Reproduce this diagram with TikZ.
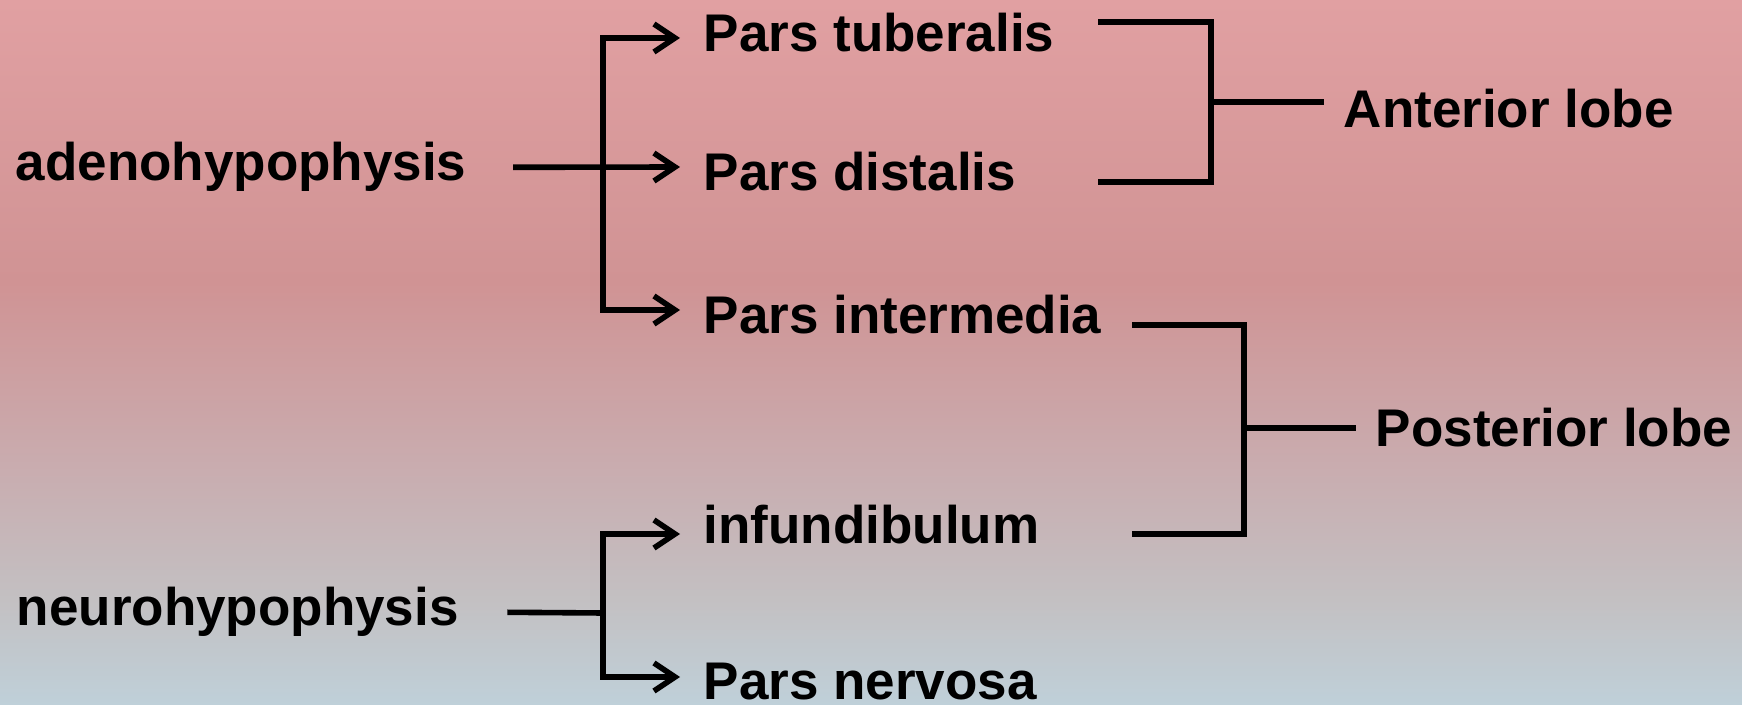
\documentclass[tikz,border=0pt]{standalone}
\usepackage{fontspec}
\setmainfont{Liberation Sans}
\usetikzlibrary{arrows.meta}

\definecolor{bgtop}{RGB}{225,160,162}
\definecolor{bgred}{RGB}{208,147,148}
\definecolor{bgmid}{RGB}{201,172,175}
\definecolor{bglow}{RGB}{195,192,194}
\definecolor{bgbot}{RGB}{191,208,217}
% the path box covers 25bp..75bp of the shading
\pgfdeclareverticalshading{bgshade}{100bp}{color(0bp)=(bgbot); color(25bp)=(bgbot); color(32.5bp)=(bglow); color(42bp)=(bgmid); color(55bp)=(bgred); color(75bp)=(bgtop); color(100bp)=(bgtop)}

\begin{document}
\begin{tikzpicture}[x=0.5pt,y=-0.5pt,line width=2.8pt,
  lbl/.style={anchor=base west,inner sep=0pt,font=\bfseries\fontsize{26.5}{30}\selectfont},
  link/.style={draw=black},
  arr/.style={link,-{Straight Barb[length=10.5pt,width=14pt]}}]
% background
\shade[shading=bgshade] (0pt,0pt) rectangle (871pt,-352.5pt);
\useasboundingbox (0pt,0pt) rectangle (871pt,-352.5pt);

% labels
\node[lbl] (adeno) at (13,181) {adenohypophysis};
\node[lbl] (neuro) at (14,626) {neurohypophysis};
\node[lbl] (tub) at (701,52) {Pars tuberalis};
\node[lbl] (dist) at (701,191) {Pars distalis};
\node[lbl] (inter) at (701,334) {Pars intermedia};
\node[lbl] (infund) at (701,544) {infundibulum};
\node[lbl] (nerv) at (701,700) {Pars nervosa};
\node[lbl] (ant) at (1341,128) {Anterior lobe};
\node[lbl] (post) at (1373,447) {Posterior lobe};

% arrow tips and joints
\coordinate (ja) at (603,167);
\coordinate (jn) at (603,613);
\coordinate (t1) at (680,38);
\coordinate (t2) at (680,167);
\coordinate (t3) at (680,310);
\coordinate (t4) at (680,534);
\coordinate (t5) at (680,677);

% adenohypophysis branches
\draw[arr] ([xshift=22pt]adeno.east) -- (t2);
\draw[arr] (t3 -| ja) |- (t1);
\draw[arr] (t1 -| ja) |- (t3);

% neurohypophysis branches
\draw[link] ([xshift=23pt]neuro.east) -- (jn);
\draw[arr] (t5 -| jn) |- (t4);
\draw[arr] (t4 -| jn) |- (t5);

% anterior lobe bracket
\coordinate (a1) at (1098,22);
\coordinate (a2) at (1098,182);
\coordinate (aj) at (1211,102);
\coordinate (ae) at (1324,102);
\draw[link] (a1) -| (aj) |- (a2);
\draw[link] (aj) -- (ae);

% posterior lobe bracket
\coordinate (p1) at (1132,325);
\coordinate (p2) at (1132,534);
\coordinate (pj) at (1244,428);
\coordinate (pe) at (1356,428);
\draw[link] (p1) -| (pj) |- (p2);
\draw[link] (pj) -- (pe);
\end{tikzpicture}
\end{document}
